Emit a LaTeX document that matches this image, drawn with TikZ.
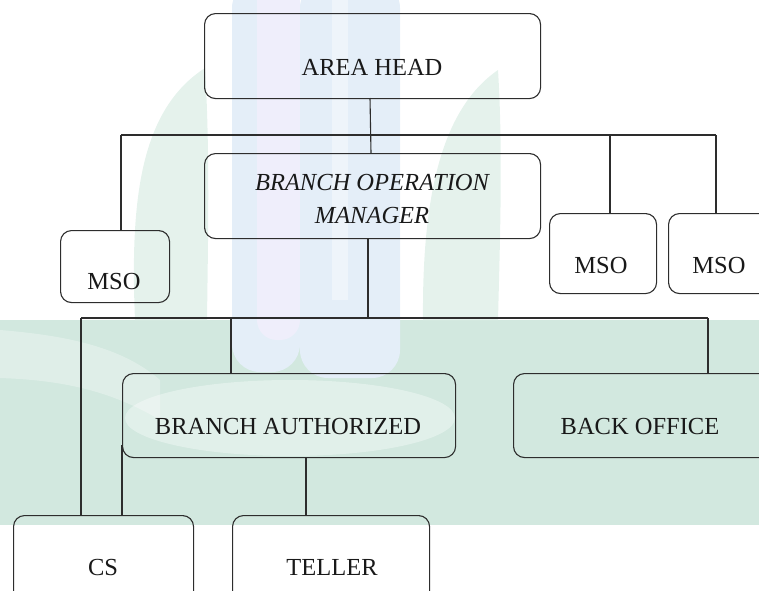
\documentclass[tikz,border=0pt]{standalone}
\usepackage{fontspec}
\setmainfont{Liberation Serif}
\definecolor{edge}{RGB}{45,45,45}
\definecolor{wmblue}{RGB}{228,238,248}
\definecolor{wmlav}{RGB}{239,238,251}
\definecolor{wmgreen}{RGB}{210,232,223}
\definecolor{wmleaf}{RGB}{229,242,236}
\begin{document}
\begin{tikzpicture}[x=1pt,y=-1pt,
  box/.style={draw=edge, line width=1.1pt, rounded corners=11pt, inner sep=0pt, anchor=north west},
  lbl/.style={font=\fontsize{24.5}{33}\selectfont, text=black!90, inner sep=0pt, align=center},
  link/.style={draw=edge, line width=1.1pt}]
\useasboundingbox (0,0) rectangle (759,590);
\clip (0,0) rectangle (759,590);
% faint watermark behind the chart
\fill[wmgreen] (0,320) rectangle (759,525);
\fill[white, opacity=0.3] (0,330) .. controls (60,335) and (120,345) .. (160,380) -- (160,420) .. controls (110,390) and (60,380) .. (0,378) -- cycle;
\fill[white, opacity=0.35] (290,418) ellipse [x radius=165, y radius=38];
\fill[wmleaf] (135,320) .. controls (130,200) and (140,110) .. (205,68) .. controls (210,150) and (208,240) .. (207,320) -- cycle;
\fill[wmleaf] (423,320) .. controls (422,200) and (440,110) .. (498,70) .. controls (503,150) and (500,240) .. (498,320) -- cycle;
\fill[wmblue, rounded corners=28pt] (232,-20) rectangle (300,372);
\fill[wmlav, rounded corners=20pt] (257,-20) rectangle (300,340);
\fill[wmblue, rounded corners=28pt] (300,-20) rectangle (400,378);
\fill[white, opacity=0.4] (332,-20) rectangle (348,300);
% boxes
\node[box, minimum width=336, minimum height=85] (ah) at (204,13) {};
\node[lbl] at (372,67) {AREA HEAD};
\node[box, minimum width=336, minimum height=85] (bom) at (204,153) {};
\node[lbl, font=\fontsize{24.5}{33}\selectfont\itshape] at (372,199) {BRANCH OPERATION\\MANAGER};
\node[box, minimum width=109, minimum height=72] (msoa) at (60,230) {};
\node[lbl] at (114,281) {MSO};
\node[box, minimum width=107, minimum height=80] (msob) at (549,213) {};
\node[lbl] at (601,265) {MSO};
\node[box, minimum width=130, minimum height=80] (msoc) at (668,213) {};
\node[lbl] at (719,265) {MSO};
\node[box, minimum width=333, minimum height=84] (ba) at (122,373) {};
\node[lbl] at (288,426) {BRANCH AUTHORIZED};
\node[box, minimum width=290, minimum height=84] (bo) at (513,373) {};
\node[lbl] at (640,426) {BACK OFFICE};
\node[box, minimum width=180, minimum height=110] (cs) at (13,515) {};
\node[lbl] at (103,567) {CS};
\node[box, minimum width=197, minimum height=110] (teller) at (232,515) {};
\node[lbl] at (332,567) {TELLER};
% connectors
\coordinate (bar1l) at (121,135);
\coordinate (bar1m) at (610,135);
\coordinate (bar1r) at (716,135);
\coordinate (bar2l) at (81,318);
\coordinate (bar2m) at (231,318);
\coordinate (bar2c) at (368,318);
\coordinate (bar2r) at (708,318);
\coordinate (bomout) at (368,238);
\coordinate (baleft) at (122,445);
\coordinate (bamid) at (306,457);
\draw[link] (370,98) -- (371,153);
\draw[link] (bar1l) -- (bar1r);
\draw[link] (bar1l) -- (bar1l |- msoa.north);
\draw[link] (bar1m) -- (bar1m |- msob.north);
\draw[link] (bar1r) -- (bar1r |- msoc.north);
\draw[link] (bomout) -- (bar2c);
\draw[link] (bar2l) -- (bar2r);
\draw[link] (bar2l) -- (bar2l |- cs.north);
\draw[link] (bar2m) -- (bar2m |- ba.north);
\draw[link] (bar2r) -- (bar2r |- bo.north);
\draw[link] (baleft) -- (baleft |- cs.north);
\draw[link] (bamid) -- (bamid |- teller.north);
\end{tikzpicture}
\end{document}
